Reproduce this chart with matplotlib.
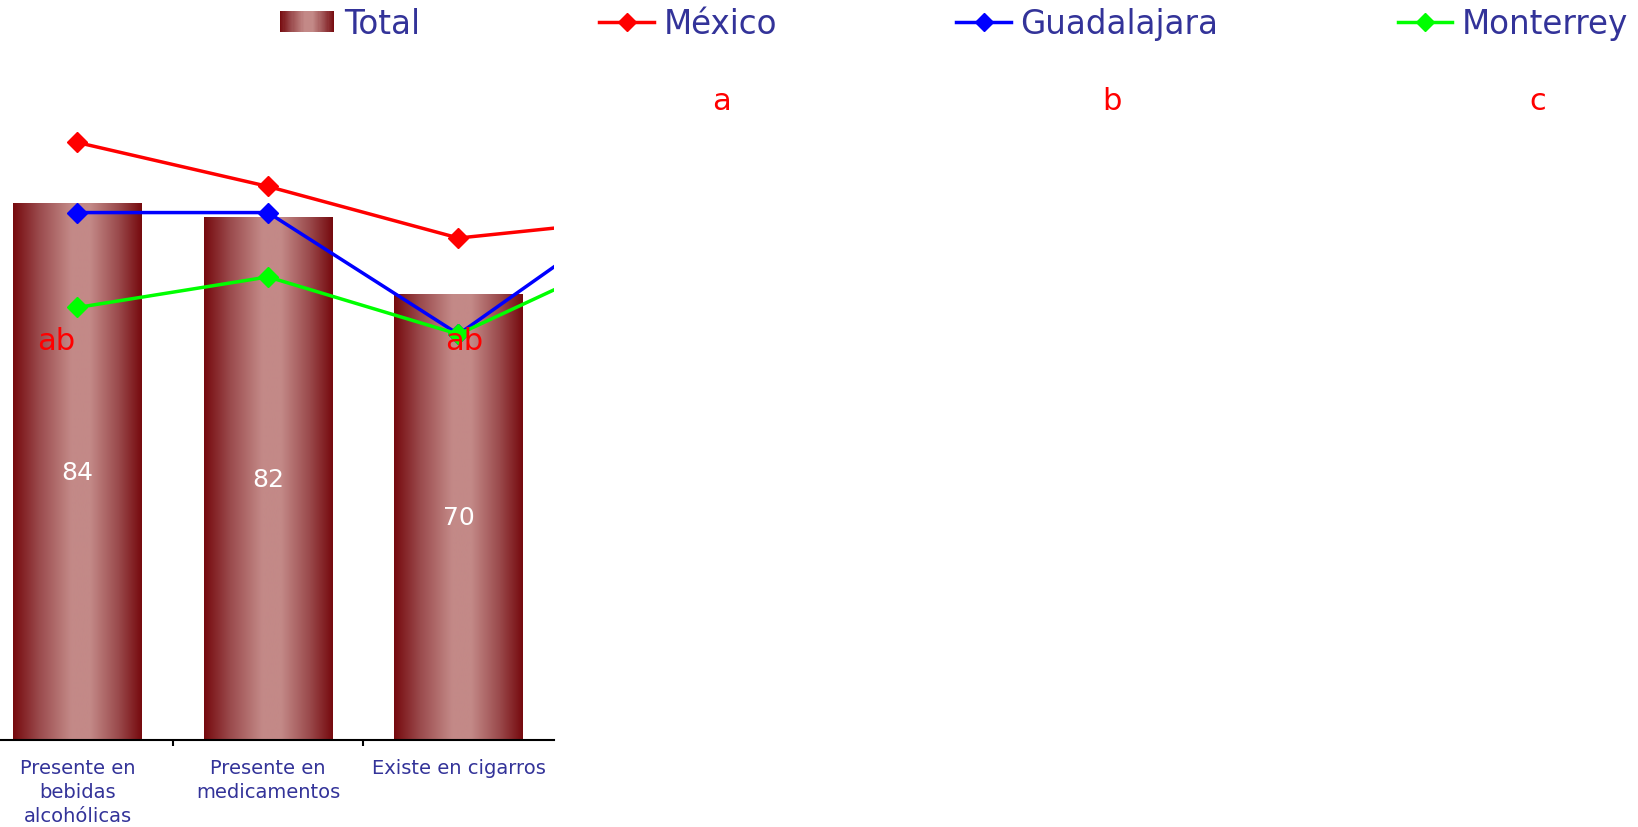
import numpy as np
import matplotlib
matplotlib.use("Agg")
import matplotlib.pyplot as plt
from matplotlib.colors import LinearSegmentedColormap
from matplotlib.legend_handler import HandlerBase
from matplotlib.patches import Rectangle, Patch
from matplotlib.lines import Line2D

# ---------------- data ----------------
categories = ["Presente en\nbebidas\nalcohólicas", "Presente en\nmedicamentos", "Existe en cigarros"]
total = [84.2, 82.0, 69.9]
mexico = [93.8, 86.9, 78.8, 81.9]
guadalajara = [82.8, 82.8, 63.7, 84.8]
monterrey = [67.9, 72.7, 63.7, 77.6]
series_names = ["Total", "México", "Guadalajara", "Monterrey"]
group_letters = ["a", "b", "c"]
sig_labels = ["ab", "ab"]
sig_values = [62.7, 62.7]

# ---------------- style ----------------
W, H = 1638, 828
TXT = "#333399"
RED, BLUE, GREEN = "#ff0000", "#0000ff", "#00ff00"

fig = plt.figure(figsize=(W / 100, H / 100), dpi=100)
ax = fig.add_axes([-17.75 / W, 87 / H, 571.5 / W, 637 / H])

cmap = LinearSegmentedColormap.from_list(
    "bargrad",
    [(0.0, "#760a0e"), (0.2, "#9a4a4c"), (0.45, "#c38987"), (0.6, "#c38987"),
     (0.82, "#9a4a4c"), (1.0, "#760a0e")])
grad = np.linspace(0, 1, 256)[None, :]

x = np.arange(len(categories))
bw = 0.677
bars = ax.bar(x, total, width=bw, color="none", edgecolor="none", zorder=1)
for b, v in zip(bars, total):
    x0 = b.get_x()
    ax.imshow(grad, cmap=cmap, aspect="auto", interpolation="bilinear",
              extent=[x0, x0 + b.get_width(), 0, b.get_height()], zorder=1)
    ax.text(x0 + b.get_width() / 2, v / 2, f"{v:.0f}", color="white",
            fontsize=18, ha="center", va="center", zorder=2)

xl = np.arange(len(mexico))
for vals, col in [(mexico, RED), (guadalajara, BLUE), (monterrey, GREEN)]:
    ax.plot(xl, vals, color=col, lw=2.5, marker="D", ms=10.5, zorder=3,
            solid_joinstyle="miter")

sig_x = [0 - 0.113, 2 + 0.03]
for sx, sy, s in zip(sig_x, sig_values, sig_labels):
    ax.text(sx, sy, s, color=RED, fontsize=22, ha="center", va="center", zorder=4)

ax.set_xlim(-0.5, 2.5)
ax.set_ylim(0, 100)
for sp in ["left", "right", "top"]:
    ax.spines[sp].set_visible(False)
ax.spines["bottom"].set_linewidth(1.5)
ax.set_yticks([])
ax.set_xticks([0.5, 1.5])
ax.set_xticklabels([])
ax.tick_params(axis="x", which="major", length=4, width=1.5, direction="out")
ax.set_xticks(x, minor=True)
ax.set_xticklabels(categories, minor=True, fontsize=14, color=TXT, linespacing=1.33)
ax.tick_params(axis="x", which="minor", length=0, pad=13)

# ---------------- legend ----------------
class GradHandler(HandlerBase):
    def create_artists(self, legend, orig_handle, xdescent, ydescent,
                       width, height, fontsize, trans):
        n = 48
        arts = []
        for i in range(n):
            r = Rectangle((-xdescent + width * i / n, -ydescent), width / n * 1.1,
                          height, facecolor=cmap((i + 0.5) / n), edgecolor="none",
                          transform=trans)
            arts.append(r)
        return arts

handles = [Patch(facecolor="#a05a5c"),
           Line2D([], [], color=RED, lw=2.5, marker="D", ms=9),
           Line2D([], [], color=BLUE, lw=2.5, marker="D", ms=9),
           Line2D([], [], color=GREEN, lw=2.5, marker="D", ms=9)]
leg = fig.legend(handles, series_names, loc="upper left",
                 bbox_to_anchor=(280 / W, 1 - 8 / H), ncol=4, frameon=False,
                 fontsize=23.5, handlelength=1.66, handleheight=0.62,
                 handletextpad=0.3, columnspacing=5.5, borderpad=0,
                 borderaxespad=0, numpoints=1,
                 handler_map={Patch: GradHandler()})
for t in leg.get_texts():
    t.set_color(TXT)

for lx, s in zip([721, 1112, 1538], group_letters):
    fig.text(lx / W, 1 - 101 / H, s, color=RED, fontsize=22, ha="center", va="center")

fig.savefig("out.png", dpi=100)
